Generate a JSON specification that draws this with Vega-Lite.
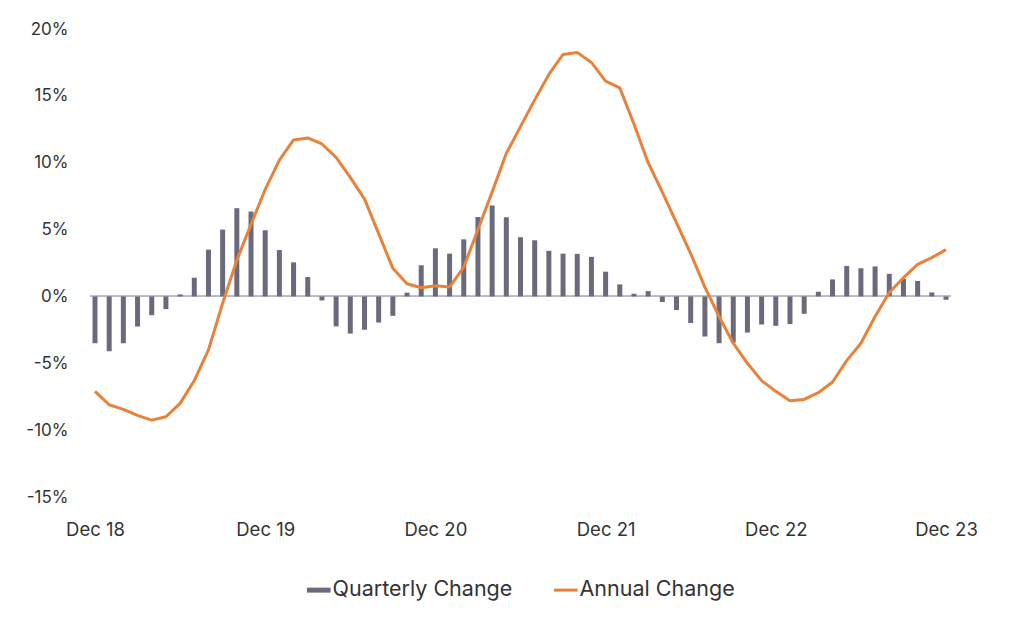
{
  "$schema": "https://vega.github.io/schema/vega-lite/v6.json",
  "autosize": {"type": "none"},
  "width": 861,
  "height": 468,
  "padding": {"left": 90, "top": 29, "right": 73, "bottom": 138},
  "background": "#ffffff",
  "config": {
    "view": {"stroke": null},
    "font": "Inter",
    "axis": {"labelFont": "Inter", "labelColor": "#333333", "labelFontSize": 16, "grid": false, "domain": false, "ticks": false, "title": null}
  },
  "data": {
    "values": [
      {"idx": 0, "month": "2018-12", "quarterly": -3.5, "annual": -7.1},
      {"idx": 1, "month": "2019-01", "quarterly": -4.1, "annual": -8.1},
      {"idx": 2, "month": "2019-02", "quarterly": -3.5, "annual": -8.45},
      {"idx": 3, "month": "2019-03", "quarterly": -2.25, "annual": -8.9},
      {"idx": 4, "month": "2019-04", "quarterly": -1.4, "annual": -9.25},
      {"idx": 5, "month": "2019-05", "quarterly": -0.95, "annual": -9.0},
      {"idx": 6, "month": "2019-06", "quarterly": 0.15, "annual": -8.0},
      {"idx": 7, "month": "2019-07", "quarterly": 1.4, "annual": -6.3},
      {"idx": 8, "month": "2019-08", "quarterly": 3.5, "annual": -4.0},
      {"idx": 9, "month": "2019-09", "quarterly": 5.0, "annual": -0.5},
      {"idx": 10, "month": "2019-10", "quarterly": 6.6, "annual": 2.7},
      {"idx": 11, "month": "2019-11", "quarterly": 6.35, "annual": 5.4},
      {"idx": 12, "month": "2019-12", "quarterly": 4.95, "annual": 8.0},
      {"idx": 13, "month": "2020-01", "quarterly": 3.47, "annual": 10.2},
      {"idx": 14, "month": "2020-02", "quarterly": 2.55, "annual": 11.7},
      {"idx": 15, "month": "2020-03", "quarterly": 1.45, "annual": 11.85},
      {"idx": 16, "month": "2020-04", "quarterly": -0.3, "annual": 11.4},
      {"idx": 17, "month": "2020-05", "quarterly": -2.24, "annual": 10.4},
      {"idx": 18, "month": "2020-06", "quarterly": -2.78, "annual": 8.9},
      {"idx": 19, "month": "2020-07", "quarterly": -2.49, "annual": 7.3},
      {"idx": 20, "month": "2020-08", "quarterly": -1.95, "annual": 4.7},
      {"idx": 21, "month": "2020-09", "quarterly": -1.45, "annual": 2.1},
      {"idx": 22, "month": "2020-10", "quarterly": 0.28, "annual": 0.95},
      {"idx": 23, "month": "2020-11", "quarterly": 2.33, "annual": 0.65},
      {"idx": 24, "month": "2020-12", "quarterly": 3.6, "annual": 0.8},
      {"idx": 25, "month": "2021-01", "quarterly": 3.2, "annual": 0.7},
      {"idx": 26, "month": "2021-02", "quarterly": 4.27, "annual": 2.2},
      {"idx": 27, "month": "2021-03", "quarterly": 5.94, "annual": 5.0},
      {"idx": 28, "month": "2021-04", "quarterly": 6.8, "annual": 7.8},
      {"idx": 29, "month": "2021-05", "quarterly": 5.92, "annual": 10.7},
      {"idx": 30, "month": "2021-06", "quarterly": 4.43, "annual": 12.7},
      {"idx": 31, "month": "2021-07", "quarterly": 4.2, "annual": 14.7},
      {"idx": 32, "month": "2021-08", "quarterly": 3.41, "annual": 16.6},
      {"idx": 33, "month": "2021-09", "quarterly": 3.2, "annual": 18.1},
      {"idx": 34, "month": "2021-10", "quarterly": 3.18, "annual": 18.25},
      {"idx": 35, "month": "2021-11", "quarterly": 2.96, "annual": 17.5},
      {"idx": 36, "month": "2021-12", "quarterly": 1.85, "annual": 16.1},
      {"idx": 37, "month": "2022-01", "quarterly": 0.9, "annual": 15.6},
      {"idx": 38, "month": "2022-02", "quarterly": 0.2, "annual": 12.9},
      {"idx": 39, "month": "2022-03", "quarterly": 0.4, "annual": 10.0},
      {"idx": 40, "month": "2022-04", "quarterly": -0.42, "annual": 7.8},
      {"idx": 41, "month": "2022-05", "quarterly": -1.02, "annual": 5.5},
      {"idx": 42, "month": "2022-06", "quarterly": -1.99, "annual": 3.2},
      {"idx": 43, "month": "2022-07", "quarterly": -3.0, "annual": 0.7},
      {"idx": 44, "month": "2022-08", "quarterly": -3.5, "annual": -1.5},
      {"idx": 45, "month": "2022-09", "quarterly": -3.45, "annual": -3.5},
      {"idx": 46, "month": "2022-10", "quarterly": -2.7, "annual": -5.0},
      {"idx": 47, "month": "2022-11", "quarterly": -2.1, "annual": -6.3},
      {"idx": 48, "month": "2022-12", "quarterly": -2.2, "annual": -7.1},
      {"idx": 49, "month": "2023-01", "quarterly": -2.07, "annual": -7.8},
      {"idx": 50, "month": "2023-02", "quarterly": -1.3, "annual": -7.7},
      {"idx": 51, "month": "2023-03", "quarterly": 0.35, "annual": -7.2},
      {"idx": 52, "month": "2023-04", "quarterly": 1.27, "annual": -6.4},
      {"idx": 53, "month": "2023-05", "quarterly": 2.28, "annual": -4.8},
      {"idx": 54, "month": "2023-06", "quarterly": 2.11, "annual": -3.5},
      {"idx": 55, "month": "2023-07", "quarterly": 2.24, "annual": -1.5},
      {"idx": 56, "month": "2023-08", "quarterly": 1.69, "annual": 0.3},
      {"idx": 57, "month": "2023-09", "quarterly": 1.31, "annual": 1.4},
      {"idx": 58, "month": "2023-10", "quarterly": 1.16, "annual": 2.4},
      {"idx": 59, "month": "2023-11", "quarterly": 0.3, "annual": 2.9},
      {"idx": 60, "month": "2023-12", "quarterly": -0.25, "annual": 3.5}
    ]
  },
  "encoding": {
    "x": {
      "field": "idx",
      "type": "quantitative",
      "scale": {"domain": [0, 60], "nice": false, "zero": false},
      "axis": {
        "values": [0, 12, 24, 36, 48, 60],
        "labelExpr": "['Dec 18','Dec 19','Dec 20','Dec 21','Dec 22','Dec 23'][round(datum.value/12)]",
        "labelPadding": 23,
        "labelFontSize": 18.5
      }
    }
  },
  "layer": [
    {
      "mark": {"type": "rule", "color": "#b9b9c3", "strokeWidth": 1},
      "encoding": {"y": {"datum": 0, "type": "quantitative"}, "x": null}
    },
    {
      "mark": {"type": "bar", "size": 5},
      "encoding": {
        "y": {
          "field": "quarterly",
          "type": "quantitative",
          "scale": {"domain": [-15, 20], "nice": false},
          "axis": {"values": [-15, -10, -5, 0, 5, 10, 15, 20], "labelExpr": "datum.value + '%'", "labelPadding": 22, "labelFontSize": 17}
        },
        "color": {
          "datum": "Quarterly Change",
          "type": "nominal",
          "scale": {"domain": ["Quarterly Change", "Annual Change"], "range": ["#6b6a7c", "#e8823b"]},
          "legend": {
            "title": null,
            "orient": "none",
            "legendX": 218,
            "legendY": 550,
            "direction": "horizontal",
            "symbolType": "stroke",
            "symbolSize": 560,
            "symbolStrokeWidth": 3,
            "labelFontSize": 21.5,
            "labelColor": "#333333",
            "labelFont": "Inter",
            "labelLimit": 400,
            "labelOffset": 3,
            "columnPadding": 34,
            "encode": {
              "symbols": {
                "update": {
                  "stroke": {"signal": "datum.value === 'Quarterly Change' ? '#1f3a4b' : '#e8823b'"},
                  "strokeWidth": {"signal": "datum.value === 'Quarterly Change' ? 5 : 3"}
                }
              }
            }
          }
        }
      }
    },
    {
      "mark": {"type": "line", "strokeWidth": 3, "strokeJoin": "round"},
      "encoding": {
        "y": {"field": "annual", "type": "quantitative"},
        "color": {"datum": "Annual Change", "type": "nominal"}
      }
    }
  ]
}
